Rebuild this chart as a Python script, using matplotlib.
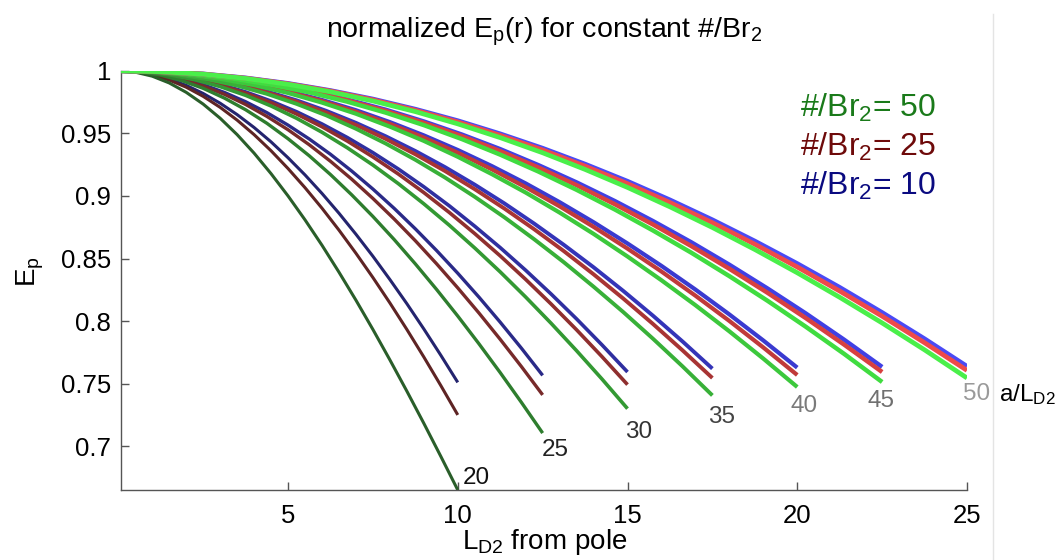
import numpy as np
import matplotlib
matplotlib.use("Agg")
import matplotlib.pyplot as plt
from matplotlib.lines import Line2D

plt.rcParams['font.family'] = ['Liberation Sans', 'DejaVu Sans']
plt.rcParams['mathtext.default'] = 'regular'

# radius in Debye lengths (a/L_D2); each curve runs from the pole out to a/2
a_values = [20, 25, 30, 35, 40, 45, 50]
# sample positions as fractions of the curve length a/2
frac = [0.0, 0.05, 0.1, 0.15, 0.2, 0.25, 0.3, 0.35, 0.4, 0.45, 0.5,
        0.55, 0.6, 0.65, 0.7, 0.75, 0.8, 0.85, 0.9, 0.95, 1.0]

# normalized E_p, #/Br2 = 50
br50_a20 = [1.0, 0.9989, 0.9957, 0.9903, 0.9828, 0.9734, 0.9621, 0.9490, 0.9342, 0.9178, 0.9000,
            0.8809, 0.8606, 0.8391, 0.8167, 0.7933, 0.7690, 0.7440, 0.7183, 0.6919, 0.6650]
br50_a25 = [1.0, 0.9991, 0.9965, 0.9921, 0.9860, 0.9782, 0.9689, 0.9581, 0.9457, 0.9321, 0.9171,
            0.9009, 0.8836, 0.8652, 0.8457, 0.8253, 0.8040, 0.7818, 0.7588, 0.7350, 0.7105]
br50_a30 = [1.0, 0.9992, 0.9968, 0.9929, 0.9874, 0.9804, 0.9719, 0.9621, 0.9509, 0.9384, 0.9247,
            0.9098, 0.8937, 0.8766, 0.8584, 0.8393, 0.8192, 0.7982, 0.7763, 0.7536, 0.7300]
br50_a35 = [1.0, 0.9993, 0.9970, 0.9933, 0.9882, 0.9816, 0.9736, 0.9644, 0.9537, 0.9419, 0.9289,
            0.9147, 0.8993, 0.8829, 0.8654, 0.8470, 0.8275, 0.8072, 0.7859, 0.7637, 0.7406]
br50_a40 = [1.0, 0.9993, 0.9971, 0.9936, 0.9886, 0.9823, 0.9746, 0.9657, 0.9554, 0.9440, 0.9313,
            0.9175, 0.9027, 0.8867, 0.8697, 0.8516, 0.8326, 0.8127, 0.7918, 0.7700, 0.7473]
br50_a45 = [1.0, 0.9993, 0.9972, 0.9938, 0.9889, 0.9828, 0.9753, 0.9666, 0.9566, 0.9454, 0.9330,
            0.9195, 0.9049, 0.8892, 0.8724, 0.8547, 0.8359, 0.8162, 0.7955, 0.7739, 0.7513]
br50_a50 = [1.0, 0.9993, 0.9973, 0.9939, 0.9892, 0.9832, 0.9759, 0.9674, 0.9576, 0.9466, 0.9345,
            0.9212, 0.9068, 0.8913, 0.8748, 0.8572, 0.8386, 0.8190, 0.7985, 0.7770, 0.7545]

# normalized E_p, #/Br2 = 25
br25_a20 = [1.0, 0.9992, 0.9967, 0.9926, 0.9869, 0.9796, 0.9708, 0.9606, 0.9490, 0.9361, 0.9219,
            0.9066, 0.8902, 0.8727, 0.8542, 0.8348, 0.8145, 0.7933, 0.7713, 0.7485, 0.7250]
br25_a25 = [1.0, 0.9992, 0.9970, 0.9932, 0.9879, 0.9812, 0.9731, 0.9636, 0.9529, 0.9409, 0.9277,
            0.9134, 0.8980, 0.8816, 0.8642, 0.8458, 0.8265, 0.8064, 0.7854, 0.7636, 0.7410]
br25_a30 = [1.0, 0.9993, 0.9971, 0.9935, 0.9886, 0.9822, 0.9745, 0.9655, 0.9553, 0.9438, 0.9312,
            0.9175, 0.9027, 0.8868, 0.8699, 0.8521, 0.8333, 0.8136, 0.7930, 0.7715, 0.7492]
br25_a35 = [1.0, 0.9993, 0.9972, 0.9938, 0.9890, 0.9828, 0.9754, 0.9666, 0.9567, 0.9456, 0.9333,
            0.9199, 0.9054, 0.8899, 0.8734, 0.8559, 0.8374, 0.8180, 0.7977, 0.7765, 0.7545]
br25_a40 = [1.0, 0.9993, 0.9973, 0.9939, 0.9892, 0.9832, 0.9759, 0.9673, 0.9576, 0.9466, 0.9345,
            0.9213, 0.9070, 0.8917, 0.8753, 0.8579, 0.8396, 0.8203, 0.8001, 0.7789, 0.7569]
br25_a45 = [1.0, 0.9993, 0.9974, 0.9940, 0.9894, 0.9835, 0.9764, 0.9680, 0.9584, 0.9477, 0.9358,
            0.9227, 0.9086, 0.8934, 0.8772, 0.8600, 0.8418, 0.8226, 0.8024, 0.7813, 0.7593]
br25_a50 = [1.0, 0.9993, 0.9974, 0.9941, 0.9896, 0.9838, 0.9768, 0.9685, 0.9591, 0.9484, 0.9367,
            0.9238, 0.9098, 0.8947, 0.8786, 0.8614, 0.8432, 0.8240, 0.8039, 0.7827, 0.7606]

# normalized E_p, #/Br2 = 10
br10_a20 = [1.0, 0.9993, 0.9971, 0.9934, 0.9884, 0.9819, 0.9741, 0.9650, 0.9547, 0.9432, 0.9305,
            0.9168, 0.9020, 0.8862, 0.8694, 0.8518, 0.8332, 0.8139, 0.7937, 0.7727, 0.7510]
br10_a25 = [1.0, 0.9993, 0.9972, 0.9937, 0.9889, 0.9827, 0.9753, 0.9666, 0.9566, 0.9455, 0.9333,
            0.9199, 0.9055, 0.8901, 0.8737, 0.8564, 0.8382, 0.8191, 0.7991, 0.7783, 0.7566]
br10_a30 = [1.0, 0.9993, 0.9973, 0.9939, 0.9892, 0.9831, 0.9758, 0.9673, 0.9575, 0.9466, 0.9346,
            0.9215, 0.9073, 0.8921, 0.8758, 0.8587, 0.8406, 0.8216, 0.8017, 0.7809, 0.7593]
br10_a35 = [1.0, 0.9993, 0.9973, 0.9940, 0.9894, 0.9835, 0.9764, 0.9680, 0.9584, 0.9477, 0.9359,
            0.9230, 0.9090, 0.8940, 0.8779, 0.8609, 0.8430, 0.8241, 0.8043, 0.7836, 0.7620]
br10_a40 = [1.0, 0.9993, 0.9974, 0.9941, 0.9896, 0.9838, 0.9767, 0.9685, 0.9590, 0.9484, 0.9367,
            0.9239, 0.9100, 0.8950, 0.8790, 0.8620, 0.8441, 0.8252, 0.8053, 0.7845, 0.7628]
br10_a45 = [1.0, 0.9994, 0.9974, 0.9942, 0.9897, 0.9840, 0.9770, 0.9689, 0.9595, 0.9490, 0.9374,
            0.9246, 0.9108, 0.8959, 0.8799, 0.8630, 0.8450, 0.8260, 0.8061, 0.7852, 0.7633]
br10_a50 = [1.0, 0.9994, 0.9975, 0.9943, 0.9899, 0.9842, 0.9774, 0.9693, 0.9601, 0.9496, 0.9381,
            0.9254, 0.9117, 0.8968, 0.8809, 0.8639, 0.8459, 0.8269, 0.8068, 0.7858, 0.7638]

series = {
    10: [br10_a20, br10_a25, br10_a30, br10_a35, br10_a40, br10_a45, br10_a50],
    25: [br25_a20, br25_a25, br25_a30, br25_a35, br25_a40, br25_a45, br25_a50],
    50: [br50_a20, br50_a25, br50_a30, br50_a35, br50_a40, br50_a45, br50_a50],
}

# shades go from dark (small a) to bright (large a)
shades = {
    10: ['#24246e', '#2a2a88', '#2f2fa0', '#3434b8', '#3a3ad0', '#4040e4', '#4a4af5'],
    25: ['#5e2424', '#772a2a', '#8f2f2f', '#a83434', '#c03a3a', '#d84040', '#ee4a4a'],
    50: ['#2a5e2a', '#2e7d2e', '#339933', '#38b038', '#3cc83c', '#40dc40', '#4aef4a'],
}
widths = [2.2, 2.4, 2.6, 2.8, 3.0, 3.2, 3.4]

# where each a/L_D2 number sits (data coordinates of its left-centre point)
a_label_x = [10.15, 12.47, 14.93, 17.37, 19.79, 22.08, 24.88]
a_label_y = [0.6742, 0.6966, 0.7113, 0.7230, 0.7318, 0.7358, 0.7414]
a_label_colors = ['#111111', '#222222', '#333333', '#444444', '#7a7a7a', '#707070', '#9a9a9a']

legend_labels = ['50', '25', '10']
legend_colors = ['#1a7a1a', '#6e0a0a', '#0a0a80']

W, H = 1057, 560
fig = plt.figure(figsize=(W / 100, H / 100), dpi=100)
ax = fig.add_axes([121 / W, 1 - 490 / H, (967 - 121) / W, (490 - 70.8) / H])

for br in (10, 25, 50):
    for i, a in enumerate(a_values):
        x = np.array(frac) * (a / 2.0)
        ax.plot(x, series[br][i], color=shades[br][i], lw=widths[i],
                solid_capstyle='butt', zorder=2 + i * 0.1)

for i, a in enumerate(a_values):
    ax.text(a_label_x[i], a_label_y[i], str(a), ha='left', va='center',
            fontsize=17.5, color=a_label_colors[i], clip_on=False)
ax.text(25.94, 0.7414, 'a/L$_{D2}$', ha='left', va='center',
        fontsize=17.5, color='black', clip_on=False)

# legend written as coloured text
for k, (lab, col) in enumerate(zip(legend_labels, legend_colors)):
    fig.text(800 / W, 1 - (108 + k * 39) / H, '#/Br$_2$= ' + lab,
             fontsize=23, color=col, ha='left', va='center')

ax.set_xlim(0.08, 25)
ax.set_ylim(0.665, 1.0)
ax.set_xticks([5, 10, 15, 20, 25])
ax.set_xticklabels(['5', '10', '15', '20', '25'])
ax.set_yticks([0.7, 0.75, 0.8, 0.85, 0.9, 0.95, 1.0])
ax.set_yticklabels(['0.7', '0.75', '0.8', '0.85', '0.9', '0.95', '1'])
ax.tick_params(direction='in', length=6, width=1, labelsize=18.5, colors='black',
               pad=7)
ax.tick_params(axis='x', pad=10)
ax.tick_params(axis='both', color='#555555')
for side in ('top', 'right'):
    ax.spines[side].set_visible(False)
for side in ('left', 'bottom'):
    ax.spines[side].set_color('#555555')
    ax.spines[side].set_linewidth(1.0)

fig.text(545 / W, 1 - 549 / H, 'L$_{D2}$ from pole', fontsize=20,
         ha='center', va='baseline')
fig.text(30 / W, 1 - 272 / H, 'E$_p$', fontsize=20, rotation=90,
         ha='center', va='center')
fig.text(544 / W, 1 - 38 / H, 'normalized E$_p$(r) for constant #/Br$_2$',
         fontsize=20.5, ha='center', va='baseline')

fig.add_artist(Line2D([993 / W, 993 / W], [0, 1 - 14 / H],
                      color='#e4e4e4', lw=1, transform=fig.transFigure))

fig.savefig('out.png', dpi=100)
